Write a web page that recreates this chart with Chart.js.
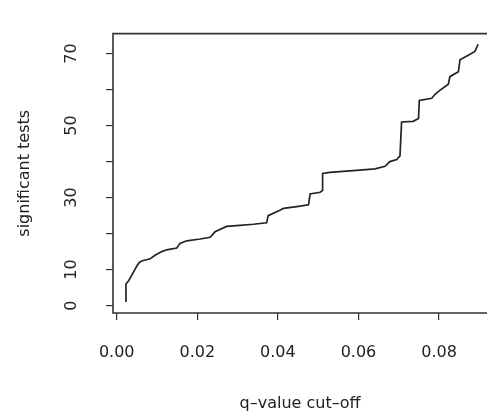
<!DOCTYPE html>
<html>
<head>
<meta charset="utf-8">
<script src="https://cdn.jsdelivr.net/npm/chart.js@4/dist/chart.umd.min.js"></script>
<style>
  body { margin: 0; background: #fff; }
</style>
</head>
<body>
<canvas id="myChart" width="487" height="419"></canvas>
<script>
// q-value cut-off vs number of significant tests
var qValues = [0.0023, 0.0023, 0.0030, 0.0035, 0.0045, 0.0050, 0.0056, 0.0062, 0.0083, 0.0095,
    0.0112, 0.0124, 0.0149, 0.0157, 0.0174, 0.0207, 0.0232, 0.0244, 0.0273, 0.0306,
    0.0339, 0.0372, 0.0376, 0.0405, 0.0414, 0.0447, 0.0476, 0.0480, 0.0505, 0.0511,
    0.0511, 0.0529, 0.0587, 0.0641, 0.0666, 0.0678, 0.0695, 0.0703, 0.0707, 0.0736,
    0.0749, 0.0751, 0.0782, 0.0790, 0.0802, 0.0823, 0.0827, 0.0848, 0.0852, 0.0877,
    0.0889, 0.0897];
var sigTests = [1, 6, 7, 8, 10, 11, 12, 12.4, 13, 14,
    15, 15.5, 16, 17.3, 18, 18.5, 19, 20.5, 22, 22.3,
    22.6, 23, 25, 26.5, 27, 27.5, 28, 31, 31.5, 32,
    36.7, 37, 37.5, 38, 38.7, 40, 40.6, 41.6, 51, 51.2,
    52, 57, 57.6, 58.7, 59.8, 61.5, 63.6, 65, 68.3, 69.8,
    70.6, 72.6];
var xTicks = [0, 0.02, 0.04, 0.06, 0.08];
var yTicks = [0, 10, 20, 30, 40, 50, 60, 70];
var yLabels = [0, 10, 30, 50, 70];

var points = [];
for (var i = 0; i < qValues.length; i++) {
    points.push({ x: qValues[i], y: sigTests[i] });
}

var fontFam = "'DejaVu Sans', sans-serif";
var ink = "#333";

// box round the plot region (left, top, bottom; right side runs off the page)
var boxPlugin = {
    id: "box",
    afterDraw: function (chart) {
        var a = chart.chartArea;
        var ctx = chart.ctx;
        ctx.save();
        ctx.strokeStyle = ink;
        ctx.lineWidth = 1.6;
        ctx.beginPath();
        ctx.moveTo(a.right + 5, a.top);
        ctx.lineTo(a.left, a.top);
        ctx.lineTo(a.left, a.bottom);
        ctx.lineTo(a.right + 5, a.bottom);
        ctx.stroke();
        ctx.restore();
    }
};

var myChart = document.getElementById("myChart").getContext("2d");
var lineChart = new Chart(myChart, {
    type: "line",
    data: {
        datasets: [{
            data: points,
            borderColor: "#222",
            borderWidth: 1.7,
            pointRadius: 0,
            tension: 0,
            fill: false
        }]
    },
    options: {
        responsive: false,
        devicePixelRatio: 1,
        animation: false,
        layout: { padding: { left: 0, top: 10, right: 0, bottom: 0 } },
        plugins: {
            legend: { display: false },
            tooltip: { enabled: false }
        },
        scales: {
            x: {
                type: "linear",
                min: -0.00092,
                max: 0.0919,
                afterBuildTicks: function (s) {
                    s.ticks = xTicks.map(function (v) { return { value: v }; });
                },
                afterFit: function (s) { s.height = 106; },
                grid: { drawOnChartArea: false, drawTicks: true, tickLength: 7, color: ink, lineWidth: 1.2 },
                border: { display: false },
                ticks: {
                    padding: 23,
                    maxRotation: 0,
                    autoSkip: false,
                    color: "#222",
                    font: { family: fontFam, size: 16 },
                    callback: function (v) { return v.toFixed(2); }
                },
                title: {
                    display: true,
                    text: "q\u2013value cut\u2013off",
                    color: "#222",
                    font: { family: fontFam, size: 16 },
                    padding: { top: 0, bottom: 6 }
                }
            },
            y: {
                type: "linear",
                min: -2.05,
                max: 75.56,
                afterBuildTicks: function (s) {
                    s.ticks = yTicks.map(function (v) { return { value: v }; });
                },
                afterFit: function (s) { s.width = 113; },
                grid: { drawOnChartArea: false, drawTicks: true, tickLength: 7, color: ink, lineWidth: 1.2 },
                border: { display: false },
                ticks: {
                    padding: 24,
                    minRotation: 90,
                    maxRotation: 90,
                    crossAlign: "center",
                    autoSkip: false,
                    color: "#222",
                    font: { family: fontFam, size: 16 },
                    callback: function (v) { return yLabels.indexOf(v) >= 0 ? String(v) : ""; }
                },
                title: {
                    display: true,
                    text: "significant tests",
                    color: "#222",
                    font: { family: fontFam, size: 16 },
                    padding: { top: 15, bottom: 0 }
                }
            }
        }
    },
    plugins: [boxPlugin]
});
</script>
</body>
</html>
